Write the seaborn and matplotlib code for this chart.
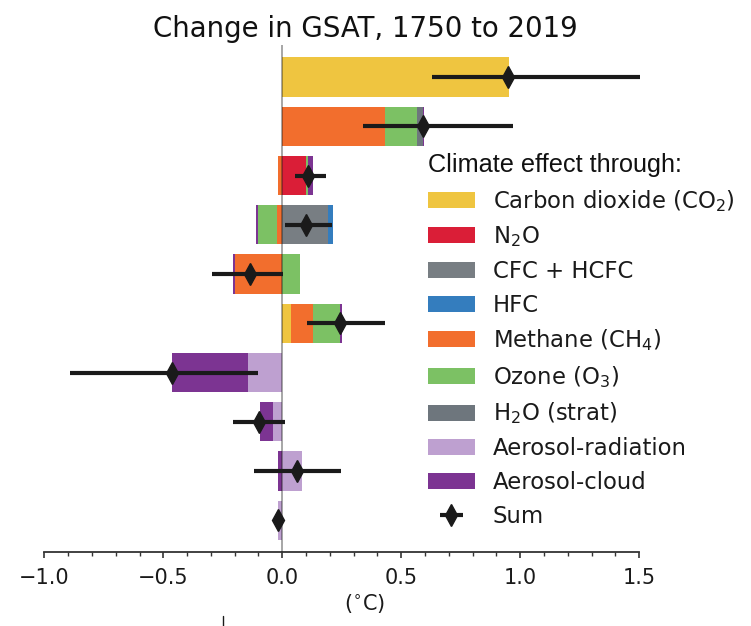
import numpy as np
import pandas as pd
import matplotlib
matplotlib.use("Agg")
import matplotlib.pyplot as plt
import seaborn as sns
from matplotlib.patches import Patch
from matplotlib.lines import Line2D
from matplotlib.ticker import FixedLocator

# ---------------- data ----------------
rows = ["Carbon dioxide", "Methane", "Nitrous oxide", "Halogenated gases",
        "Nitrogen oxides", "VOC + CO", "Sulphur dioxide", "Organic carbon",
        "Black carbon", "Ammonia"]

effects = ["Carbon dioxide (CO$_2$)", "N$_2$O", "CFC + HCFC", "HFC",
           "Methane (CH$_4$)", "Ozone (O$_3$)", "H$_2$O (strat)",
           "Aerosol-radiation", "Aerosol-cloud"]
colors = ["#EFC540", "#DA1E37", "#787E83", "#347DBE", "#F26E2D",
          "#7CC164", "#6E767D", "#BEA0D0", "#7C3492"]

# contributions (deg C) of each climate effect, per emitted component (rows)
co2     = [0.954, 0.000, 0.000, 0.000, 0.000, 0.037, 0.000, 0.000, 0.000, 0.000]
n2o     = [0.000, 0.000, 0.100, 0.000, 0.000, 0.000, 0.000, 0.000, 0.000, 0.000]
cfc     = [0.000, 0.000, 0.000, 0.191, 0.000, 0.000, 0.000, 0.000, 0.000, 0.000]
hfc     = [0.000, 0.000, 0.000, 0.023, 0.000, 0.000, 0.000, 0.000, 0.000, 0.000]
ch4     = [0.000, 0.431, -0.017, -0.021, -0.199, 0.093, 0.000, 0.000, 0.000, 0.000]
o3      = [0.000, 0.134, 0.010, -0.080, 0.074, 0.112, 0.000, 0.000, 0.000, 0.000]
h2o     = [0.000, 0.025, 0.000, 0.000, 0.000, 0.000, 0.000, 0.000, 0.000, 0.000]
aer_rad = [0.000, 0.000, 0.000, 0.000, 0.000, 0.000, -0.143, -0.038, 0.082, -0.019]
aer_cld = [0.000, 0.005, 0.018, -0.010, -0.009, 0.007, -0.322, -0.056, -0.017, 0.000]

total = [0.950, 0.592, 0.109, 0.100, -0.136, 0.242, -0.465, -0.097, 0.060, -0.017]
low   = [0.630, 0.339, 0.053, 0.011, -0.297, 0.105, -0.892, -0.206, -0.119, -0.030]
high  = [1.503, 0.971, 0.182, 0.208, 0.004, 0.431, -0.101, 0.011, 0.245, -0.005]

xticks = [-1.0, -0.5, 0.0, 0.5, 1.0, 1.5]

# ---------------- style ----------------
sns.set_theme(style="ticks")
plt.rcParams["font.family"] = ["DejaVu Sans"]
plt.rcParams["mathtext.fontset"] = "dejavusans"

fig = plt.figure(figsize=(7.51, 6.26), dpi=100)
ax = fig.add_axes([0.059, 0.1177, 0.854, 0.8104])

comps = np.array([co2, n2o, cfc, hfc, ch4, o3, h2o, aer_rad, aer_cld])
cum_pos = np.cumsum(np.clip(comps, 0, None), axis=0)
cum_neg = np.cumsum(np.clip(comps, None, 0), axis=0)

# stacked bars: draw cumulative extents, last component first
for k in reversed(range(len(effects))):
    for cum in (cum_pos, cum_neg):
        df = pd.DataFrame({"row": rows, "value": cum[k]})
        sns.barplot(data=df, x="value", y="row", orient="h", color=colors[k],
                    saturation=1, width=0.8, errorbar=None, linewidth=0, ax=ax)

tot = np.array(total)
eb = ax.errorbar(tot, np.arange(len(rows)),
                 xerr=[tot - np.array(low), np.array(high) - tot],
                 fmt="d", color="k", ms=10.8, mew=1.0, elinewidth=3,
                 capsize=0, zorder=5)

ax.axvline(0, color="k", alpha=0.45, lw=1.2, zorder=4)

ax.set_xlim(-1.0, 1.695)
ax.set_ylim(9.65, -0.65)
for s in ("left", "top", "right"):
    ax.spines[s].set_visible(False)
ax.spines["bottom"].set_bounds(-1.0, 1.5)
ax.spines["bottom"].set_color("#333333")
ax.spines["bottom"].set_linewidth(1.3)
ax.set_yticks([])
ax.set_ylabel("")
ax.set_xticks(xticks)
ax.xaxis.set_minor_locator(FixedLocator(np.round(np.arange(-1.0, 1.501, 0.1), 2)))
ax.tick_params(axis="x", which="major", length=4.3, width=1.2, color="#333333",
               labelsize=15, labelcolor="#1a1a1a", pad=7)
ax.tick_params(axis="x", which="minor", length=2.6, width=1.0, color="#333333")
ax.set_xlabel("($^{\\circ}$C)", fontsize=15, color="#1a1a1a", labelpad=3)
ax.set_title("Change in GSAT, 1750 to 2019", fontsize=19.9, color="#111111")

handles = [Patch(facecolor=c, edgecolor="none") for c in colors] + [eb]
labels = effects + ["Sum"]
leg = ax.legend(handles, labels, loc="upper left",
                bbox_to_anchor=(428 / 751, 1 - 153 / 626), bbox_transform=fig.transFigure,
                frameon=False, borderpad=0, borderaxespad=0, fontsize=16.4,
                title="Climate effect through:",
                title_fontproperties={"family": "Liberation Sans", "size": 18.2},
                alignment="left", handlelength=2.05, handleheight=0.7,
                handletextpad=0.8, labelspacing=0.47)
for t in leg.get_texts():
    t.set_color("#1a1a1a")
leg.get_title().set_color("#111111")

fig.add_artist(Line2D([222.5 / 751] * 2, [0, 10 / 626], color="k", lw=1))

fig.savefig("out.png", dpi=100)
